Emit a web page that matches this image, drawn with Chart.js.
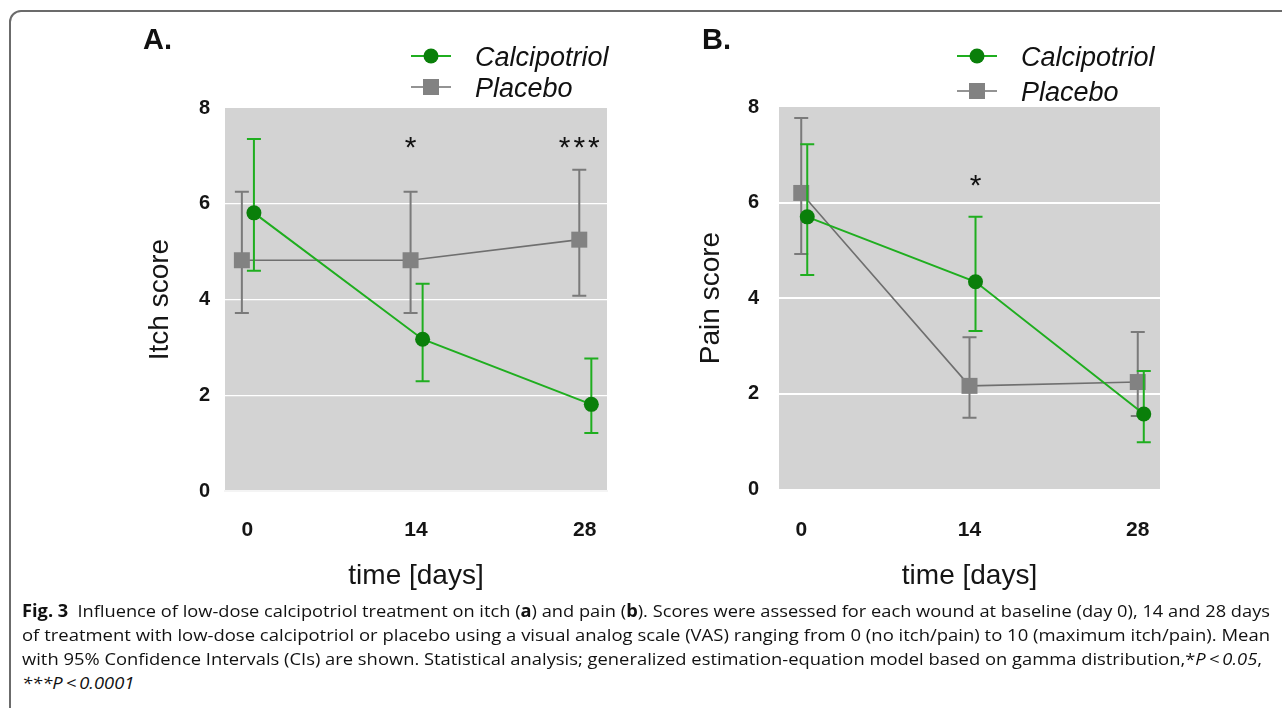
<!DOCTYPE html>
<html><head><meta charset="utf-8">
<script src="https://cdn.jsdelivr.net/npm/chart.js@4/dist/chart.umd.min.js"></script>
<style>
html,body{margin:0;padding:0;background:#fff;width:1282px;height:708px;overflow:hidden;}
#frame{position:absolute;left:9px;top:10px;width:1300px;height:730px;border:2px solid #6b6b6b;border-radius:12px;box-sizing:border-box;}
#ca{position:absolute;left:0;top:0;}
#cb{position:absolute;left:640px;top:0;}
.cap{position:absolute;left:22px;font-family:"Open Sans",sans-serif;font-size:17px;line-height:24px;color:#111;white-space:nowrap;transform-origin:0 50%;}
</style></head>
<body>
<div id="frame"></div>
<canvas id="ca" width="640" height="600"></canvas>
<canvas id="cb" width="642" height="600"></canvas>
<div class="cap" id="l1" style="top:599px"><b>Fig. 3</b>&ensp;Influence of low-dose calcipotriol treatment on itch (<b>a</b>) and pain (<b>b</b>). Scores were assessed for each wound at baseline (day 0), 14 and 28 days</div>
<div class="cap" id="l2" style="top:623px">of treatment with low-dose calcipotriol or placebo using a visual analog scale (VAS) ranging from 0 (no itch/pain) to 10 (maximum itch/pain). Mean</div>
<div class="cap" id="l3" style="top:647px">with 95% Confidence Intervals (CIs) are shown. Statistical analysis; generalized estimation-equation model based on gamma distribution,*<i>P&thinsp;&lt;&thinsp;0.05</i>,</div>
<div class="cap" id="l4" style="top:671px"><i>***P&thinsp;&lt;&thinsp;0.0001</i></div>
<script>
// ---------- data ----------
const days = [0, 14, 28];
const yTicks = [0, 2, 4, 6, 8];
const seriesNames = ['Calcipotriol', 'Placebo'];

const itchCalci      = [5.81, 3.17, 1.81];
const itchCalciLow   = [4.60, 2.29, 1.21];
const itchCalciHigh  = [7.35, 4.33, 2.77];
const itchPlacebo     = [4.82, 4.82, 5.25];
const itchPlaceboLow  = [3.72, 3.72, 4.08];
const itchPlaceboHigh = [6.25, 6.25, 6.71];
const itchSigDays   = [14, 28];
const itchSigLabels = ['*', '***'];
const itchSigLevel  = [7.25, 7.25];

const painCalci      = [5.70, 4.34, 1.57];
const painCalciLow   = [4.48, 3.31, 0.98];
const painCalciHigh  = [7.22, 5.70, 2.47];
const painPlacebo     = [6.20, 2.16, 2.24];
const painPlaceboLow  = [4.92, 1.49, 1.53];
const painPlaceboHigh = [7.77, 3.18, 3.29];
const painSigDays   = [14];
const painSigLabels = ['*'];
const painSigLevel  = [6.43];

// ---------- styles ----------
const GREEN_LINE = '#1fae1f', GREEN_MARK = '#0a7f0a';
const GREY_LINE = '#6f6f6f', GREY_MARK = '#828282', GREY_ERR = '#7a7a7a';
const FONT = '"Liberation Sans", Arial, sans-serif';

const panelPlugin = {
  id: 'panel',
  beforeDraw(chart, args, o) {
    const {ctx, chartArea: a} = chart;
    ctx.save();
    ctx.fillStyle = '#d3d3d3';
    ctx.fillRect(a.left, a.top, a.right - a.left, a.bottom - a.top);
    ctx.restore();
  },
  beforeDatasetDraw(chart, args, o) {
    const ds = chart.data.datasets[args.index];
    const {ctx} = chart, xs = chart.scales.x, ys = chart.scales.y;
    ctx.save();
    ctx.strokeStyle = ds.errColor;
    ctx.lineWidth = 2;
    ds.data.forEach((p, i) => {
      const x = xs.getPixelForValue(p.x);
      const yl = ys.getPixelForValue(ds.low[i]);
      const yh = ys.getPixelForValue(ds.high[i]);
      ctx.beginPath();
      ctx.moveTo(x, yl); ctx.lineTo(x, yh);
      ctx.moveTo(x - 7, yl); ctx.lineTo(x + 7, yl);
      ctx.moveTo(x - 7, yh); ctx.lineTo(x + 7, yh);
      ctx.stroke();
    });
    ctx.restore();
  },
  afterDraw(chart, args, o) {
    const {ctx} = chart, xs = chart.scales.x, ys = chart.scales.y;
    ctx.save();
    // panel letter
    ctx.fillStyle = '#111';
    ctx.font = 'bold 29px ' + FONT;
    ctx.textAlign = 'left'; ctx.textBaseline = 'alphabetic';
    ctx.fillText(o.letter, o.letterX, 49);
    // significance stars
    ctx.font = '30px ' + FONT;
    ctx.textAlign = 'center';
    ctx.letterSpacing = '3px';
    o.sigDays.forEach((d, i) => {
      const x = xs.getPixelForValue(d + o.sigOffset);
      const y = ys.getPixelForValue(o.sigLevel[i]);
      ctx.fillText(o.sigLabels[i], x + 1.5, y + 13);
    });
    ctx.letterSpacing = '0px';
    // legend
    chart.data.datasets.forEach((ds, i) => {
      const ly = o.legRows[i];
      ctx.strokeStyle = ds.borderColor; ctx.lineWidth = ds.borderWidth;
      ctx.beginPath(); ctx.moveTo(o.legX, ly); ctx.lineTo(o.legX + 40, ly); ctx.stroke();
      ctx.fillStyle = ds.pointBackgroundColor;
      Chart.helpers.drawPoint(ctx, {pointStyle: ds.pointStyle, radius: ds.pointRadius, rotation: 0, borderWidth: 0}, o.legX + 20, ly);
      ctx.fillStyle = '#111';
      ctx.font = 'italic 27px ' + FONT;
      ctx.textAlign = 'left';
      ctx.fillText(ds.label, o.legX + 64, ly + 10);
    });
    ctx.restore();
  }
};

function makeChart(id, cfg) {
  const mk = (vals, off) => days.map((d, i) => ({x: d + off, y: vals[i]}));
  return new Chart(document.getElementById(id), {
    type: 'line',
    data: {
      datasets: [
        {label: seriesNames[0], data: mk(cfg.calci, cfg.calciOff), low: cfg.calciLow, high: cfg.calciHigh,
         borderColor: GREEN_LINE, borderWidth: 2, errColor: GREEN_LINE,
         pointStyle: 'circle', pointRadius: 7.5, pointBackgroundColor: GREEN_MARK, pointBorderWidth: 0, pointBorderColor: GREEN_MARK},
        {label: seriesNames[1], data: mk(cfg.plac, cfg.placOff), low: cfg.placLow, high: cfg.placHigh,
         borderColor: GREY_LINE, borderWidth: 1.6, errColor: GREY_ERR,
         pointStyle: 'rect', pointRadius: 11.3, pointBackgroundColor: GREY_MARK, pointBorderWidth: 0, pointBorderColor: GREY_MARK}
      ]
    },
    options: {
      responsive: false, animation: false, events: [], devicePixelRatio: 1,
      layout: {padding: {left: cfg.padLeft, right: cfg.padRight, top: cfg.top, bottom: 0}},
      plugins: {legend: {display: false}, tooltip: {enabled: false},
        panel: {letter: cfg.letter, letterX: cfg.letterX, sigDays: cfg.sigDays, sigLabels: cfg.sigLabels,
                sigLevel: cfg.sigLevel, sigOffset: cfg.sigOffset, legX: cfg.legX, legRows: cfg.legRows}},
      scales: {
        x: {type: 'linear', min: -1.85, max: 29.85,
            afterBuildTicks: s => { s.ticks = days.map(v => ({value: v})); },
            afterFit: s => { s.height = 600 - cfg.bottom; },
            grid: {display: false, drawTicks: false},
            border: cfg.dashedBase ? {display: true, color: '#f4f4f4', width: 2, dash: [8, 4]} : {display: false},
            ticks: {padding: cfg.xTickPad, color: '#151515', font: {family: FONT, size: 21, weight: 'bold'}},
            title: {display: true, text: 'time [days]', color: '#151515', padding: {top: 0, bottom: 7}, font: {family: FONT, size: 28}}},
        y: {type: 'linear', min: 0, max: 8,
            afterBuildTicks: s => { s.ticks = yTicks.map(v => ({value: v})); },
            afterFit: s => { s.width = cfg.yWidth; },
            grid: {drawTicks: false, lineWidth: cfg.gridW,
                   color: c => (c.tick && (c.tick.value === 0 || c.tick.value === 8)) ? 'rgba(0,0,0,0)' : '#ffffff'},
            border: {display: false},
            ticks: {padding: cfg.yTickPad, color: '#151515', font: {family: FONT, size: 20, weight: 'bold'}},
            title: {display: true, text: cfg.yTitle, color: '#151515', padding: {top: cfg.yTitlePad, bottom: 0}, font: {family: FONT, size: 28}}}
      }
    },
    plugins: [panelPlugin]
  });
}

makeChart('ca', {
  calci: itchCalci, calciLow: itchCalciLow, calciHigh: itchCalciHigh, calciOff: 0.55,
  plac: itchPlacebo, placLow: itchPlaceboLow, placHigh: itchPlaceboHigh, placOff: -0.45,
  padLeft: 130, yWidth: 95, padRight: 33, top: 108, bottom: 491, yTitlePad: 13, yTickPad: 15, xTickPad: 27,
  yTitle: 'Itch score', gridW: 1.2, dashedBase: true,
  letter: 'A.', letterX: 143, sigDays: itchSigDays, sigLabels: itchSigLabels, sigLevel: itchSigLevel, sigOffset: -0.45,
  legX: 411, legRows: [56, 87]
});
makeChart('cb', {
  calci: painCalci, calciLow: painCalciLow, calciHigh: painCalciHigh, calciOff: 0.5,
  plac: painPlacebo, placLow: painPlaceboLow, placHigh: painPlaceboHigh, placOff: 0,
  padLeft: 50, yWidth: 89, padRight: 122, top: 107, bottom: 489, yTitlePad: 4, yTickPad: 20, xTickPad: 29,
  yTitle: 'Pain score', gridW: 2, dashedBase: false,
  letter: 'B.', letterX: 62, sigDays: painSigDays, sigLabels: painSigLabels, sigLevel: painSigLevel, sigOffset: 0.5,
  legX: 317, legRows: [56, 91]
});

// caption: fit each justified line to the column width
function fitLine(id, w) {
  const el = document.getElementById(id);
  const s = w / el.getBoundingClientRect().width;
  el.style.transform = 'scaleX(' + s + ')';
  return s;
}
fitLine('l1', 1248); fitLine('l2', 1248);
const s3 = fitLine('l3', 1240);
document.getElementById('l4').style.transform = 'scaleX(' + s3 + ')';
</script>
</body></html>
